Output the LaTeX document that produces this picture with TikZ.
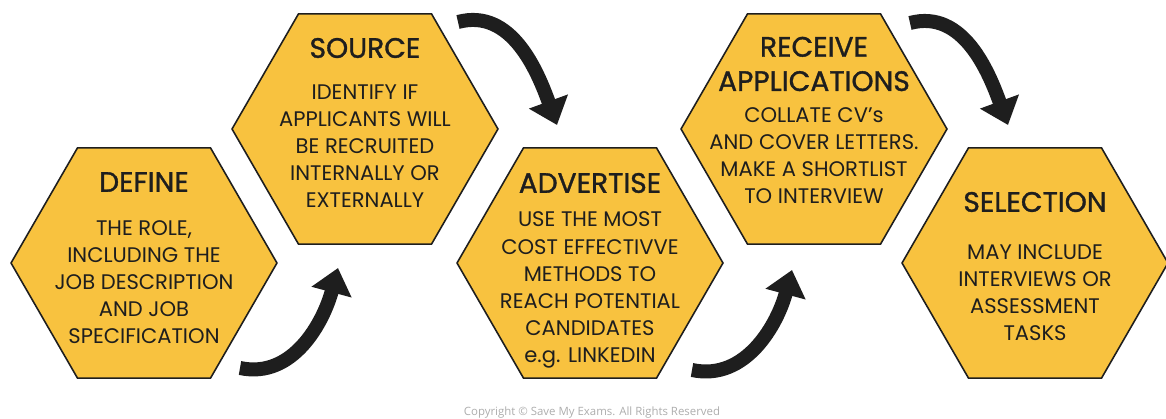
\documentclass[tikz,border=0pt]{standalone}
\usepackage{fontspec}
\setmainfont{Poppins}
\newfontfamily\headfont[FakeBold=1.2]{Poppins}
\newfontfamily\notefont{Open Sans}
\usepackage{xcolor}
\definecolor{honey}{HTML}{F8C23F}
\definecolor{inkline}{HTML}{1E1E1E}
\usetikzlibrary{positioning,shapes.geometric,arrows.meta,calc}

\begin{document}
\begin{tikzpicture}[x=0.02cm,y=0.02cm,
		hexa/.style={regular polygon,regular polygon sides=6,minimum size=5.32cm,inner sep=0pt,outer sep=0pt,fill=honey,draw=inkline,line width=0.9pt},
		head/.style={font=\headfont\fontsize{16}{19.5}\selectfont,text=inkline,align=center},
		body/.style={font=\fontsize{12}{15.4}\selectfont,text=inkline,align=center},
		turn/.style={line width=0.28cm,draw=inkline,-{Triangle[width=0.8cm,length=0.5cm]}}]
			\useasboundingbox (0,0) rectangle (1166,419);
			
			%%% HEXAGONS
			\node[hexa] (define) at (144,156) {};
			\node[hexa] (source) at (365,290) {};
			\node[hexa] (advert) at (590,156) {};
			\node[hexa] (receive) at (814,290) {};
			\node[hexa] (select) at (1035,156) {};
			
			%%% TEXTS
			\node[head] (define-t) at ($(define)+(0,81)$) {DEFINE};
			\node[body] (define-b) at ($(define)+(0,-19)$) {THE ROLE,\\ INCLUDING THE\\ JOB DESCRIPTION\\ AND JOB\\ SPECIFICATION};
			
			\node[head] (source-t) at ($(source)+(0,81)$) {SOURCE};
			\node[body] (source-b) at ($(source)+(0,-17)$) {IDENTIFY IF\\ APPLICANTS WILL\\ BE RECRUITED\\ INTERNALLY OR\\ EXTERNALLY};
			
			\node[head] (advert-t) at ($(advert)+(0,80)$) {ADVERTISE};
			\node[body] (advert-b) at ($(advert)+(0,-27)$) {USE THE MOST\\ COST EFFECTIVVE\\ METHODS TO\\ REACH POTENTIAL\\ CANDIDATES\\ e.g. LINKEDIN};
			
			\node[head] (receive-t) at ($(receive)+(0,65)$) {RECEIVE\\ APPLICATIONS};
			\node[body] (receive-b) at ($(receive)+(0,-27)$) {COLLATE CV’s\\ AND COVER LETTERS.\\ MAKE A SHORTLIST\\ TO INTERVIEW};
			
			\node[head] (select-t) at ($(select)+(0,61)$) {SELECTION};
			\node[body] (select-b) at ($(select)+(0,-30)$) {MAY INCLUDE\\ INTERVIEWS OR\\ ASSESSMENT\\ TASKS};
			
			%%% CURVED ARROWS
			\coordinate (turn1a) at (240,51);
			\coordinate (turn1b) at (338,151);
			\coordinate (turn2a) at (458,397);
			\coordinate (turn2b) at (557,294);
			\coordinate (turn3a) at (692,49);
			\coordinate (turn3b) at (792,149);
			\coordinate (turn4a) at (910,396);
			\coordinate (turn4b) at (1008,294);
			\draw[turn] (turn1a) to[out=-12,in=-105] (turn1b);
			\draw[turn] (turn2a) to[out=15,in=110] (turn2b);
			\draw[turn] (turn3a) to[out=-12,in=-105] (turn3b);
			\draw[turn] (turn4a) to[out=15,in=110] (turn4b);
			
			\node[font=\notefont\fontsize{6.5}{7}\selectfont,text=black!32] (copy) at (592,6) {Copyright \textcopyright\ Save My Exams. All Rights Reserved};
			
		\end{tikzpicture}
\end{document}
